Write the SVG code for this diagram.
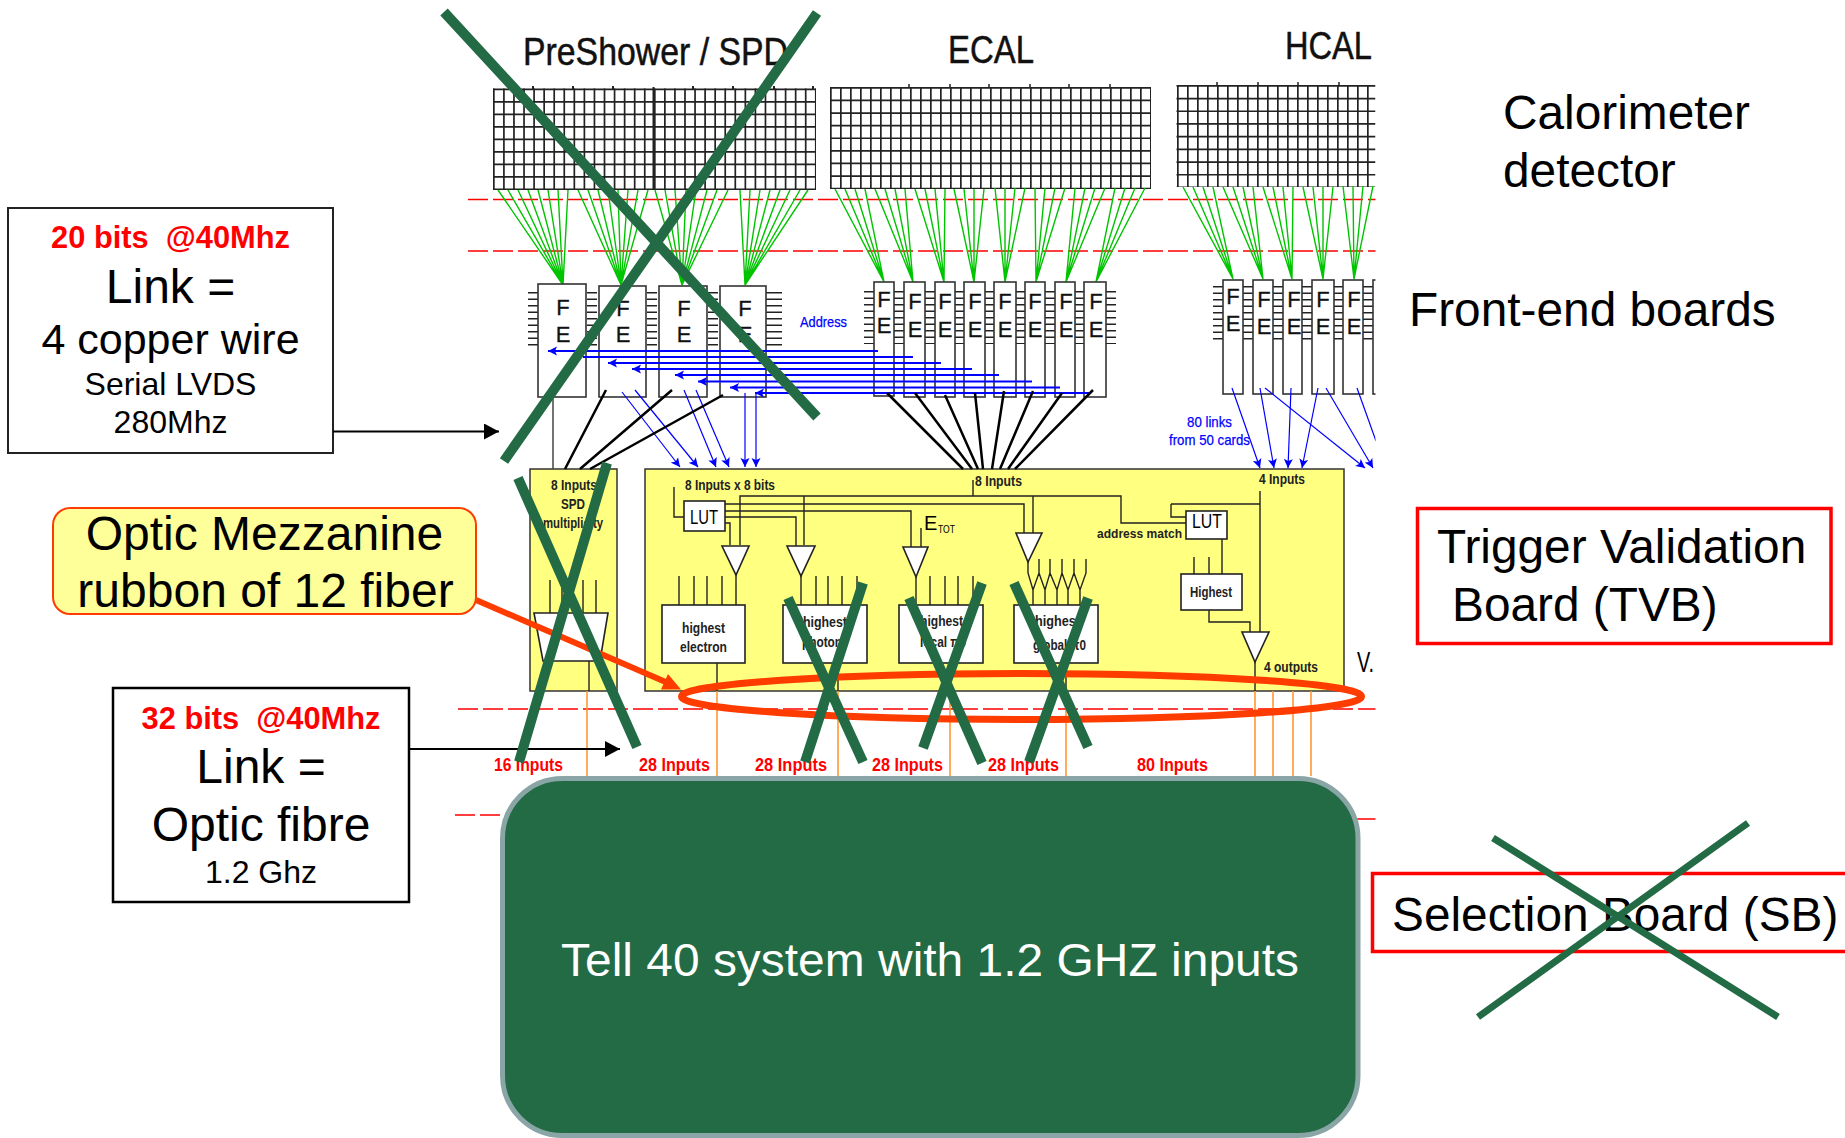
<svg xmlns="http://www.w3.org/2000/svg" width="1845" height="1138" viewBox="0 0 1845 1138">
<style>
text{font-family:"Liberation Sans",Arial,sans-serif;fill:#000}
.big{font-size:47.8px}
.red{fill:#f00;font-weight:bold;font-size:30.8px;white-space:pre}
.sm{font-size:15px;font-weight:bold;fill:#222}
.bl{font-size:15px;fill:#00f;stroke:#00f;stroke-width:.25}
.rl{font-size:18px;font-weight:bold;fill:#f00}
.t{font-size:38px;fill:#111;stroke:#111;stroke-width:.5}
.fe{font-size:22px;text-anchor:middle;fill:#111;stroke:#111;stroke-width:.3}
.grid{fill:none;stroke:#222}
.pin{fill:none;stroke:#222;stroke-width:10;stroke-dasharray:1.6 4.9}
.bd{fill:#fff;stroke:#333;stroke-width:1.6}
.yl{fill:#ffff80;stroke:#333;stroke-width:1.5}
.wh{fill:#fff;stroke:#222;stroke-width:1.6}
.w{fill:none;stroke:#222;stroke-width:1.4}
.dash{stroke:#f00;fill:none;stroke-width:1.6;stroke-dasharray:20 5}
.or{stroke:#f93;stroke-width:1.6;fill:none}
.x{stroke:#226b45;stroke-width:10;fill:none}
.anno{fill:#fff;stroke-width:3.5}
.hb{stroke:#00f;stroke-width:1.9;fill:none}
.db{stroke:#00f;stroke-width:1.2;fill:none}
</style>
<defs>
<clipPath id="page"><rect x="0" y="0" width="1375.5" height="1138"/></clipPath>
<marker id="ab" markerWidth="10" markerHeight="10" refX="9" refY="5" orient="auto" markerUnits="userSpaceOnUse"><path d="M0 0.500L9 5L0 9.500L2 5Z" fill="#00f"/></marker>
<marker id="ak" markerWidth="16" markerHeight="16" refX="15" refY="8" orient="auto" markerUnits="userSpaceOnUse"><path d="M0 0L15 8L0 16Z" fill="#000"/></marker>
</defs>

<g id="calorimeter-figure" clip-path="url(#page)">
<path class="dash" d="M468 199.500H1376M468 251H1376"/>
<path class="dash" style="stroke-width:1.3" d="M458 709H1376M455 815H500M1357 819H1376"/>

<text class="t" x="523" y="65" textLength="265" lengthAdjust="spacingAndGlyphs">PreShower / SPD</text>
<text class="t" x="948" y="63" textLength="86" lengthAdjust="spacingAndGlyphs">ECAL</text>
<text class="t" x="1285" y="59" textLength="87" lengthAdjust="spacingAndGlyphs">HCAL</text>

<g id="grid-preshower">
<path class="grid" stroke-width="101" stroke-dasharray="1.7 8.36" d="M493 139H816"/>
<path class="grid" stroke-width="323" stroke-dasharray="1.7 10.8" d="M654.500 88.500V190"/>
<path class="grid" stroke-width="2" d="M653.500 87V190M533 86V89M573 86V89M613 86V89M693 86V89M733 86V89M774 86V89M813 86V89"/>
</g>
<g id="grid-ecal">
<path class="grid" stroke-width="101" stroke-dasharray="1.7 8.3" d="M830 137.500H1151"/>
<path class="grid" stroke-width="321" stroke-dasharray="1.7 10.9" d="M990.500 87V189"/>
<path class="grid" stroke-width="1.500" d="M909 84V88M950 84V88M989 84V88M1030 84V88M1069 84V88M1110 84V88"/>
</g>
<g id="grid-hcal">
<path class="grid" stroke-width="102" stroke-dasharray="1.7 8.3" d="M1177 136H1376"/>
<path class="grid" stroke-width="199" stroke-dasharray="1.7 11" d="M1276 85V187"/>
<path class="grid" stroke-width="1.500" d="M1217 82V86M1258 82V86M1298 82V86M1339 82V86"/>
</g>

<g id="connectors">
<g id="fibres" fill="none" stroke="#00c400" stroke-width="1.400">
<path d="M498 190L563 285M508 190L563 285M518 190L563 285M528 190L563 285M538 190L563 285M548 190L563 285M558 190L563 285M568 190L563 285"/>
<path d="M578 190L621 285M588 190L621 285M598 190L621 285M608 190L621 285M618 190L621 285M628 190L621 285M638 190L621 285M648 190L621 285"/>
<path d="M655 190L682 285M665 190L682 285M675 190L682 285M686 190L682 285M696 190L682 285M707 190L682 285M717 190L682 285M728 190L682 285"/>
<path d="M740 190L745 285M750 190L745 285M760 190L745 285M770 190L745 285M780 190L745 285M790 190L745 285M800 190L745 285M808 190L745 285"/>
<path d="M835 189L884 282M845 189L884 282M855 189L884 282M865 189L884 282"/>
<path d="M875 189L913 282M885 189L913 282M895 189L913 282M905 189L913 282"/>
<path d="M915 189L944 282M925 189L944 282M935 189L944 282M945 189L944 282"/>
<path d="M954 189L974 282M964 189L974 282M974 189L974 282M984 189L974 282"/>
<path d="M995 188L1005 282M1005 188L1005 282M1015 188L1005 282M1025 188L1005 282"/>
<path d="M1035 188L1036 282M1045 188L1036 282M1055 188L1036 282M1065 188L1036 282"/>
<path d="M1075 188L1066 282M1085 188L1066 282M1095 188L1066 282M1105 188L1066 282"/>
<path d="M1115 188L1096 282M1125 188L1096 282M1135 188L1096 282M1145 188L1096 282"/>
<path d="M1183 187L1233 279M1193 187L1233 279M1203 187L1233 279M1213 187L1233 279"/>
<path d="M1223 187L1263 279M1233 187L1263 279M1243 187L1263 279M1253 187L1263 279"/>
<path d="M1263 187L1292 279M1273 187L1292 279M1283 187L1292 279M1293 187L1292 279"/>
<path d="M1303 187L1323 279M1313 187L1323 279M1323 187L1323 279M1333 187L1323 279"/>
<path d="M1343 186L1354 279M1353 186L1354 279M1363 186L1354 279M1373 186L1354 279"/>
</g>
</g>

<path class="pin" d="M533 292V346M592 292V346M652 292V346M713 292V346"/>
<path class="pin" style="stroke-width:16" d="M774 292V346"/>
<path class="pin" d="M869 291V344M899 291V344M930 291V344M960 291V344M990 291V344M1020 291V344M1050 291V344M1080 291V344M1111 291V344"/>
<path class="pin" d="M1218 286V340M1248 286V340M1278 286V340M1307 286V340M1338 286V340M1368 286V340"/>

<g id="fe-p1"><rect class="bd" x="538" y="284" width="48" height="113"/><text class="fe" x="563" y="315">F</text><text class="fe" x="563" y="342">E</text></g>
<g id="fe-p2"><rect class="bd" x="599" y="286" width="47" height="111"/><text class="fe" x="623" y="316">F</text><text class="fe" x="623" y="342">E</text></g>
<g id="fe-p3"><rect class="bd" x="659" y="286" width="48" height="111"/><text class="fe" x="684" y="316">F</text><text class="fe" x="684" y="342">E</text></g>
<g id="fe-p4"><rect class="bd" x="720" y="286" width="46" height="111"/><text class="fe" x="745" y="316">F</text><text class="fe" x="745" y="342">E</text></g>

<g id="fe-e1"><rect class="bd" x="874" y="282" width="20" height="114"/><text class="fe" x="884" y="307">F</text><text class="fe" x="884" y="333">E</text></g>
<g id="fe-e2"><rect class="bd" x="904" y="282" width="21" height="115"/><text class="fe" x="915" y="309">F</text><text class="fe" x="915" y="337">E</text></g>
<g id="fe-e3"><rect class="bd" x="935" y="282" width="20" height="115"/><text class="fe" x="945" y="309">F</text><text class="fe" x="945" y="337">E</text></g>
<g id="fe-e4"><rect class="bd" x="964" y="282" width="21" height="115"/><text class="fe" x="975" y="309">F</text><text class="fe" x="975" y="337">E</text></g>
<g id="fe-e5"><rect class="bd" x="994" y="282" width="22" height="115"/><text class="fe" x="1005" y="309">F</text><text class="fe" x="1005" y="337">E</text></g>
<g id="fe-e6"><rect class="bd" x="1025" y="282" width="20" height="115"/><text class="fe" x="1035" y="309">F</text><text class="fe" x="1035" y="337">E</text></g>
<g id="fe-e7"><rect class="bd" x="1055" y="282" width="20" height="115"/><text class="fe" x="1066" y="309">F</text><text class="fe" x="1066" y="337">E</text></g>
<g id="fe-e8"><rect class="bd" x="1084" y="282" width="22" height="115"/><text class="fe" x="1096" y="309">F</text><text class="fe" x="1096" y="337">E</text></g>

<g id="fe-h1"><rect class="bd" x="1223" y="280" width="20" height="114"/><text class="fe" x="1233" y="304">F</text><text class="fe" x="1233" y="331">E</text></g>
<g id="fe-h2"><rect class="bd" x="1253" y="280" width="20" height="114"/><text class="fe" x="1264" y="307">F</text><text class="fe" x="1264" y="334">E</text></g>
<g id="fe-h3"><rect class="bd" x="1283" y="280" width="19" height="114"/><text class="fe" x="1294" y="307">F</text><text class="fe" x="1294" y="334">E</text></g>
<g id="fe-h4"><rect class="bd" x="1312" y="280" width="22" height="114"/><text class="fe" x="1323" y="307">F</text><text class="fe" x="1323" y="334">E</text></g>
<g id="fe-h5"><rect class="bd" x="1343" y="280" width="20" height="114"/><text class="fe" x="1354" y="307">F</text><text class="fe" x="1354" y="334">E</text></g>
<g id="fe-h6"><rect class="bd" x="1373" y="280" width="20" height="114"/></g>

<text class="bl" x="800" y="327" textLength="47" lengthAdjust="spacingAndGlyphs">Address</text>
<text class="bl" x="1187" y="427" textLength="45" lengthAdjust="spacingAndGlyphs">80 links</text>
<text class="bl" x="1169" y="445" textLength="81" lengthAdjust="spacingAndGlyphs">from 50 cards</text>

<g id="yellow-left">
<rect class="yl" x="530" y="469" width="87" height="222"/>
<path class="w" d="M550 580V613M562 580V613M583 580V613M596 580V613M589 661V691"/>
<path class="wh" d="M534 613H608L600 661H543Z"/>
<text class="sm" x="551" y="490" textLength="46" lengthAdjust="spacingAndGlyphs">8 Inputs</text>
<text class="sm" x="561" y="509" textLength="24" lengthAdjust="spacingAndGlyphs">SPD</text>
<text class="sm" x="543" y="528" textLength="60" lengthAdjust="spacingAndGlyphs">multiplicity</text>
</g>
<g id="yellow-main">
<rect class="yl" x="645" y="469" width="699" height="222"/>
<path class="w" d="M674 487V517H684M740 545V496H1121V523H1186M804 496V545M973 496V480M1033 496V533M725 504H1024V533M725 511H911V547M725 517H796V546M725 523H730V545M921 528V547M1171 504H1260M1171 504V517H1186M1260 491V632M1222 539V574M1194 557V574M1209 557V574M1209 610V622H1250V632M1255 662V691"/>
<path class="w" d="M736 575V605M801 576V605M916 577V605M679 576V605M694 576V605M707 576V605M722 576V605M816 576V605M828 576V605M842 576V605M857 576V605M930 576V605M945 576V605M958 576V605M973 576V605"/>
<path class="w" d="M1028 559V573L1033 590L1039 573V559M1039 573L1045 590L1050 573V559M1050 573L1057 590L1062 573V559M1062 573L1068 590L1074 573V559M1074 573L1080 590L1086 573V559M1033 590V605M1045 590V605M1057 590V605M1068 590V605M1080 590V605"/>
<path class="w" d="M717 663V691M838 663V691M950 663V691M1066 663V691"/>
<path class="wh" d="M722 546H749L736 575ZM787 546H815L801 576ZM903 547H928L916 577ZM1016 533H1042L1028 562ZM1242 632H1269L1255 662Z"/>
<g id="lut-1"><rect class="wh" x="684" y="501" width="41" height="30"/><text x="690" y="524" font-size="20" textLength="28" lengthAdjust="spacingAndGlyphs">LUT</text></g>
<g id="lut-2"><rect class="wh" x="1186" y="511" width="41" height="28"/><text x="1192" y="528" font-size="20" textLength="30" lengthAdjust="spacingAndGlyphs">LUT</text></g>
<g id="highest-electron"><rect class="wh" x="662" y="605" width="83" height="58"/><text class="sm" x="682" y="633" textLength="43" lengthAdjust="spacingAndGlyphs">highest</text><text class="sm" x="680" y="652" textLength="47" lengthAdjust="spacingAndGlyphs">electron</text></g>
<g id="highest-photon"><rect class="wh" x="783" y="605" width="84" height="58"/><text class="sm" x="803" y="627" textLength="44" lengthAdjust="spacingAndGlyphs">highest</text><text class="sm" x="802" y="647" textLength="40" lengthAdjust="spacingAndGlyphs">photon</text></g>
<g id="highest-local"><rect class="wh" x="899" y="605" width="84" height="58"/><text class="sm" x="920" y="626" textLength="43" lengthAdjust="spacingAndGlyphs">highest</text><text class="sm" x="920" y="647" textLength="46" lengthAdjust="spacingAndGlyphs">local π0</text></g>
<g id="highest-global"><rect class="wh" x="1014" y="605" width="84" height="58"/><text class="sm" x="1035" y="626" textLength="45" lengthAdjust="spacingAndGlyphs">highest</text><text class="sm" x="1033" y="650" textLength="53" lengthAdjust="spacingAndGlyphs">global π0</text></g>
<g id="highest-4"><rect class="wh" x="1181" y="574" width="61" height="36"/><text class="sm" x="1190" y="597" textLength="42" lengthAdjust="spacingAndGlyphs">Highest</text></g>
<text class="sm" x="685" y="490" textLength="90" lengthAdjust="spacingAndGlyphs">8 Inputs x 8 bits</text>
<text x="924" y="530" font-size="20" fill="#222">E</text>
<text x="938" y="533" font-size="11" textLength="17" lengthAdjust="spacingAndGlyphs">TOT</text>
<text class="sm" x="975" y="486" textLength="47" lengthAdjust="spacingAndGlyphs">8 Inputs</text>
<text class="sm" x="1259" y="484" textLength="46" lengthAdjust="spacingAndGlyphs">4 Inputs</text>
<text class="sm" style="font-size:12.500px" x="1097" y="538" textLength="85" lengthAdjust="spacingAndGlyphs">address match</text>
<text class="sm" x="1264" y="672" textLength="54" lengthAdjust="spacingAndGlyphs">4 outputs</text>
</g>
<text x="1357" y="672" font-size="30" textLength="17" lengthAdjust="spacingAndGlyphs">V.</text>

<g id="links" fill="none">
<path class="hb" marker-end="url(#ab)" d="M878 351H548"/>
<path class="hb" d="M913 357H583"/>
<path class="hb" marker-end="url(#ab)" d="M941 363H608"/>
<path class="hb" marker-end="url(#ab)" d="M972 369H632"/>
<path class="hb" marker-end="url(#ab)" d="M999 375H675"/>
<path class="hb" marker-end="url(#ab)" d="M1032 381.500H698"/>
<path class="hb" marker-end="url(#ab)" d="M1060 387.500H730"/>
<path class="hb" marker-end="url(#ab)" d="M1090 393H755"/>
<path class="db" marker-end="url(#ab)" d="M622 392L680 467"/>
<path class="db" marker-end="url(#ab)" d="M635 390L698 467"/>
<path class="db" marker-end="url(#ab)" d="M684 390L716 467"/>
<path class="db" marker-end="url(#ab)" d="M696 390L729 467"/>
<path class="db" marker-end="url(#ab)" d="M745 393V467"/>
<path class="db" marker-end="url(#ab)" d="M756 393V467"/>
<path class="db" marker-end="url(#ab)" d="M1232 388L1260 468"/>
<path class="db" marker-end="url(#ab)" d="M1260 388L1274 468"/>
<path class="db" marker-end="url(#ab)" d="M1291 388L1288 468"/>
<path class="db" marker-end="url(#ab)" d="M1318 388L1302 468"/>
<path class="db" marker-end="url(#ab)" d="M1265 388L1365 468"/>
<path class="db" marker-end="url(#ab)" d="M1326 388L1373 468"/>
<path class="db" d="M1357 388L1376 441"/>
<path stroke="#000" stroke-width="2.500" d="M887 393L963 469M915 393L972 469M945 395L978 469M975 393L983 469M1004 391L992 469M1033 391L1000 469M1062 393L1008 469M1093 390L1015 469"/>
<path stroke="#000" stroke-width="2.500" d="M606 390L565 469M672 390L580 469M723 395L590 469"/>
<path stroke="#444" stroke-width="1.500" d="M553 397V469"/>
<path class="or" d="M587 691V776M717 691V776M838 691V776M950 691V776M1066 691V776M1255 691V776M1273 691V776M1293 691V776M1311 691V776"/>
</g>

<text class="rl" x="494" y="771" textLength="69" lengthAdjust="spacingAndGlyphs">16 Inputs</text>
<text class="rl" x="639" y="771" textLength="71" lengthAdjust="spacingAndGlyphs">28 Inputs</text>
<text class="rl" x="755" y="771" textLength="72" lengthAdjust="spacingAndGlyphs">28 Inputs</text>
<text class="rl" x="872" y="771" textLength="71" lengthAdjust="spacingAndGlyphs">28 Inputs</text>
<text class="rl" x="988" y="771" textLength="71" lengthAdjust="spacingAndGlyphs">28 Inputs</text>
<text class="rl" x="1137" y="771" textLength="71" lengthAdjust="spacingAndGlyphs">80 Inputs</text>
</g>

<g id="tell40">
<rect x="502.500" y="778.500" width="855.500" height="357" rx="60" ry="60" fill="#226b45" stroke="#8aa5a5" stroke-width="5"/>
<text x="561" y="976" font-size="47" style="fill:#fff" textLength="738" lengthAdjust="spacingAndGlyphs">Tell 40 system with 1.2 GHZ inputs</text>
</g>

<g id="box-copper">
<rect x="8" y="208" width="325" height="245" fill="#fff" stroke="#222" stroke-width="2"/>
<text class="red" x="170.500" y="248" text-anchor="middle">20 bits  @40Mhz</text>
<text x="170.500" y="303" font-size="48" text-anchor="middle">Link =</text>
<text x="170.500" y="354" font-size="43" text-anchor="middle">4 copper wire</text>
<text x="170.500" y="395" font-size="32" text-anchor="middle">Serial LVDS</text>
<text x="170.500" y="433" font-size="32" text-anchor="middle">280Mhz</text>
</g>
<g id="box-optic-mezzanine">
<rect x="53" y="508" width="423" height="106" rx="17" ry="17" fill="#ffff99" stroke="#ff3c00" stroke-width="2"/>
<text x="264.500" y="550" font-size="48" text-anchor="middle">Optic Mezzanine</text>
<text x="265.500" y="607" font-size="48" text-anchor="middle">rubbon of 12 fiber</text>
</g>
<g id="box-optic">
<rect x="113" y="688" width="296" height="214" fill="#fff" stroke="#000" stroke-width="2.500"/>
<text class="red" x="261" y="729" text-anchor="middle">32 bits  @40Mhz</text>
<text x="261" y="783" font-size="48" text-anchor="middle">Link =</text>
<text x="261" y="841" font-size="48" text-anchor="middle">Optic fibre</text>
<text x="261" y="883" font-size="32" text-anchor="middle">1.2 Ghz</text>
</g>

<g id="label-calorimeter"><text class="big" x="1503" y="129">Calorimeter</text><text class="big" x="1503" y="187">detector</text></g>
<g id="label-frontend"><text class="big" x="1409" y="326">Front-end boards</text></g>
<g id="box-tvb">
<rect class="anno" x="1417.500" y="508.500" width="413.500" height="135" stroke="#f00"/>
<text class="big" x="1437" y="563">Trigger Validation</text><text class="big" x="1452" y="621">Board (TVB)</text>
</g>
<g id="box-sb">
<rect class="anno" x="1372.500" y="873.500" width="490" height="78" stroke="#f00"/>
<text class="big" x="1392" y="931">Selection Board (SB)</text>
</g>

<g id="highlights" fill="none">
<ellipse cx="1021.500" cy="696.500" rx="340" ry="23" stroke="#ff3c00" stroke-width="7"/>
<path stroke="#ff3c00" stroke-width="6" d="M476 600L668 683"/>
<path fill="#ff3c00" d="M681 689.500L668 674L661 689.500Z"/>
</g>
<g id="arrows" fill="none" stroke="#000" stroke-width="2">
<path marker-end="url(#ak)" d="M333 431.500H499"/>
<path marker-end="url(#ak)" d="M409 749H620"/>
</g>

<g id="crosses">
<path class="x" d="M444 12L817 417M817 13L504 461"/>
<path class="x" d="M518 478L637 747M607 463L519 762"/>
<path class="x" d="M788 598L863 762M863 583L805 762"/>
<path class="x" d="M909 598L982 763M982 583L923 748"/>
<path class="x" d="M1014 583L1088 747M1088 598L1029 762"/>
<path class="x" style="stroke-width:7" d="M1493 838L1778 1017M1748 823L1478 1017"/>
</g>
</svg>
